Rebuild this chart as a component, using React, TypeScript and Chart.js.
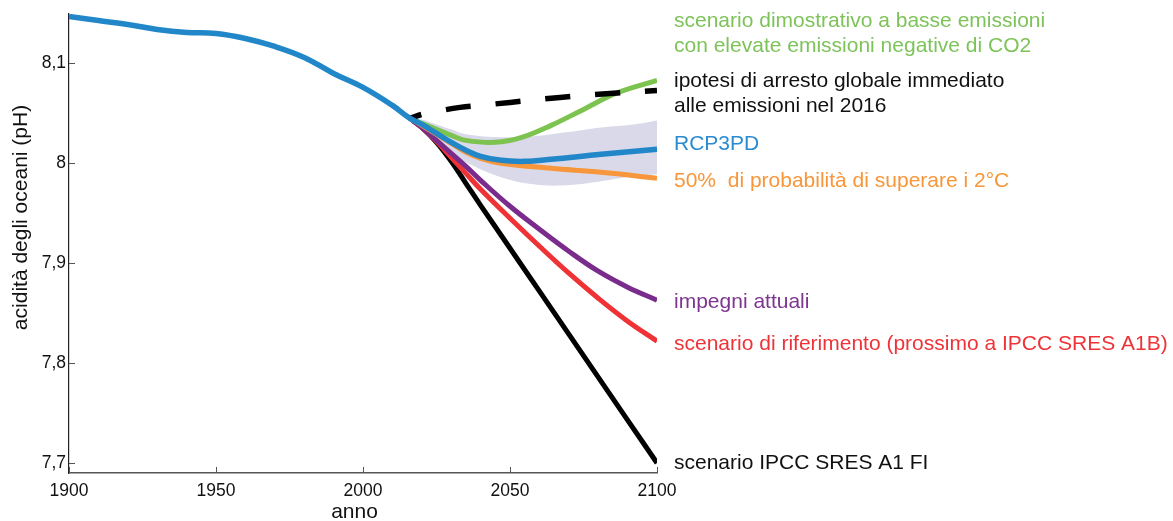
import React, { useEffect, useRef } from "react";
import { Chart, registerables } from "chart.js";

Chart.register(...registerables);

// ---------- DATA ----------
const historicalYears = [1900, 1910, 1920, 1930, 1940, 1950, 1960, 1970, 1980, 1990, 2000, 2010, 2016];
const historicalPH = [8.147, 8.143, 8.139, 8.134, 8.131, 8.130, 8.125, 8.117, 8.106, 8.090, 8.076, 8.058, 8.045];

const rcpYears = [2016, 2020, 2025, 2030, 2035, 2040, 2047, 2055, 2064, 2081, 2100];
const rcpPH = [8.045, 8.039, 8.030, 8.021, 8.013, 8.007, 8.003, 8.002, 8.004, 8.009, 8.014];

const lowEmYears = [2016, 2020, 2025, 2030, 2035, 2045, 2054, 2064, 2075, 2086, 2100];
const lowEmPH = [8.045, 8.040, 8.034, 8.028, 8.023, 8.021, 8.026, 8.038, 8.054, 8.070, 8.083];

const stopYears = [2016, 2020, 2025, 2033, 2040, 2050, 2067, 2084, 2100];
const stopPH = [8.045, 8.049, 8.052, 8.056, 8.058, 8.061, 8.066, 8.070, 8.073];

const prob50Years = [2016, 2020, 2025, 2030, 2035, 2040, 2047, 2064, 2081, 2100];
const prob50PH = [8.045, 8.038, 8.029, 8.020, 8.011, 8.005, 8.000, 7.995, 7.991, 7.985];

const pledgesYears = [2016, 2020, 2025, 2030, 2035, 2040, 2050, 2060, 2070, 2080, 2090, 2100];
const pledgesPH = [8.045, 8.036, 8.023, 8.010, 7.997, 7.983, 7.957, 7.934, 7.912, 7.892, 7.876, 7.863];

const referenceYears = [2016, 2020, 2025, 2030, 2035, 2040, 2050, 2060, 2070, 2080, 2090, 2100];
const referencePH = [8.045, 8.036, 8.022, 8.006, 7.990, 7.974, 7.945, 7.917, 7.890, 7.865, 7.842, 7.822];

const a1fiYears = [2016, 2020, 2025, 2030, 2035, 2040, 2050, 2060, 2070, 2080, 2090, 2100];
const a1fiPH = [8.045, 8.036, 8.021, 8.002, 7.980, 7.958, 7.915, 7.872, 7.829, 7.786, 7.743, 7.700];

const bandYears = [2016, 2020, 2024, 2030, 2035, 2047, 2058, 2069, 2081, 2092, 2100];
const bandUpperPH = [8.045, 8.044, 8.040, 8.034, 8.029, 8.026, 8.027, 8.031, 8.036, 8.039, 8.043];
const bandLowerPH = [8.045, 8.037, 8.025, 8.011, 8.001, 7.986, 7.979, 7.978, 7.982, 7.987, 7.989];

const xTicks = [1900, 1950, 2000, 2050, 2100];
const yTicks = [7.7, 7.8, 7.9, 8.0, 8.1];
const yTickLabels = ["7,7", "7,8", "7,9", "8", "8,1"];

const xTitle = "anno";
const yTitle = "acidità degli oceani (pH)";

const labelLowEm = ["scenario dimostrativo a basse emissioni", "con elevate emissioni negative di CO2"];
const labelStop = ["ipotesi di arresto globale immediato", "alle emissioni nel 2016"];
const labelRcp = ["RCP3PD"];
const labelProb50 = ["50%  di probabilità di superare i 2°C"];
const labelPledges = ["impegni attuali"];
const labelReference = ["scenario di riferimento (prossimo a IPCC SRES A1B)"];
const labelA1fi = ["scenario IPCC SRES A1 FI"];

// ---------- STYLE ----------
const C_BLUE = "#2287c8";
const C_GREEN = "#7cc350";
const C_ORANGE = "#f7963a";
const C_PURPLE = "#7a2c8c";
const C_RED = "#ee3236";
const C_BLACK = "#000000";
const C_BAND = "#d9d9ea";
const FONT = '"Liberation Sans", Arial, Helvetica, sans-serif';

const pts = (xs: number[], ys: number[]) => xs.map((x, i) => ({ x, y: ys[i] }));

const rightLabels: { lines: string[]; color: string; baselines: number[] }[] = [
  { lines: labelLowEm, color: "#7dc35a", baselines: [26.5, 51.5] },
  { lines: labelStop, color: "#111111", baselines: [87, 111.5] },
  { lines: labelRcp, color: "#2a8bd0", baselines: [149.5] },
  { lines: labelProb50, color: "#f7963a", baselines: [187] },
  { lines: labelPledges, color: "#7d3591", baselines: [307.5] },
  { lines: labelReference, color: "#ee3338", baselines: [350] },
  { lines: labelA1fi, color: "#111111", baselines: [468.5] },
];

const overlayPlugin = {
  id: "overlay",
  afterDraw(chart: any) {
    const ctx = chart.ctx as CanvasRenderingContext2D;
    const { left, bottom } = chart.chartArea;
    const xs = chart.scales.x;
    const ys = chart.scales.y;
    ctx.save();
    // inward tick marks
    ctx.strokeStyle = "#555";
    ctx.lineWidth = 1;
    xTicks.forEach((v) => {
      const px = Math.round(xs.getPixelForValue(v)) + 0.5;
      ctx.beginPath();
      ctx.moveTo(px, bottom);
      ctx.lineTo(px, bottom - 6);
      ctx.stroke();
    });
    yTicks.forEach((v) => {
      const py = Math.round(ys.getPixelForValue(v)) + 0.5;
      ctx.beginPath();
      ctx.moveTo(left, py);
      ctx.lineTo(left + 6, py);
      ctx.stroke();
    });
    // axis titles
    ctx.fillStyle = "#111";
    ctx.font = `21px ${FONT}`;
    ctx.textAlign = "center";
    ctx.textBaseline = "alphabetic";
    ctx.fillText(xTitle, 354.5, 518);
    ctx.save();
    ctx.translate(26.5, 217.5);
    ctx.rotate(-Math.PI / 2);
    ctx.fillText(yTitle, 0, 0);
    ctx.restore();
    // right-hand labels
    ctx.textAlign = "left";
    const lx = xs.right + 17;
    rightLabels.forEach((lab) => {
      ctx.fillStyle = lab.color;
      lab.lines.forEach((t, i) => ctx.fillText(t, lx, lab.baselines[i]));
    });
    ctx.restore();
  },
};

const line = (label: string, xs: number[], ys: number[], color: string, order: number, extra: any = {}) => ({
  label,
  data: pts(xs, ys),
  borderColor: color,
  backgroundColor: color,
  borderWidth: 5,
  pointRadius: 0,
  fill: false,
  tension: 0.4,
  borderCapStyle: "butt",
  borderJoinStyle: "round",
  order,
  ...extra,
});

export default function App() {
  const ref = useRef<HTMLCanvasElement | null>(null);

  useEffect(() => {
    if (!ref.current) return;
    const datasets: any[] = [
      line("RCP3PD", [...historicalYears, ...rcpYears.slice(1)], [...historicalPH, ...rcpPH.slice(1)], C_BLUE, 0, { borderWidth: 5.5 }),
      line("arresto 2016", stopYears, stopPH, C_BLACK, 1, { borderDash: [25, 25], borderDashOffset: 13, borderWidth: 5.5 }),
      line("basse emissioni", lowEmYears, lowEmPH, C_GREEN, 2),
      line("50%", prob50Years, prob50PH, C_ORANGE, 3),
      line("impegni attuali", pledgesYears, pledgesPH, C_PURPLE, 4),
      line("riferimento", referenceYears, referencePH, C_RED, 5),
      line("A1 FI", a1fiYears, a1fiPH, C_BLACK, 6),
      {
        label: "band upper",
        data: pts(bandYears, bandUpperPH),
        borderWidth: 0,
        borderColor: "rgba(0,0,0,0)",
        pointRadius: 0,
        fill: false,
        tension: 0.4,
        order: 100,
      },
      {
        label: "band lower",
        data: pts(bandYears, bandLowerPH),
        borderWidth: 0,
        borderColor: "rgba(0,0,0,0)",
        backgroundColor: C_BAND,
        pointRadius: 0,
        fill: "-1",
        tension: 0.4,
        order: 100,
      },
    ];

    const chart = new Chart(ref.current, {
      type: "line",
      data: { datasets },
      plugins: [overlayPlugin],
      options: {
        animation: false,
        responsive: false,
        devicePixelRatio: 1,
        layout: { padding: { top: 10, right: 516, left: 0, bottom: 0 } },
        plugins: {
          legend: { display: false },
          tooltip: { enabled: false },
          title: { display: false },
        },
        scales: {
          x: {
            type: "linear",
            min: 1900,
            max: 2100,
            grid: { display: false, drawTicks: false },
            border: { display: true, color: "#555", width: 1.5 },
            afterBuildTicks: (s: any) => {
              s.ticks = xTicks.map((v) => ({ value: v }));
            },
            afterFit: (s: any) => {
              s.height = 48;
            },
            ticks: {
              padding: 8,
              color: "#111",
              font: { family: FONT, size: 17.5 },
              maxRotation: 0,
              autoSkip: false,
              callback: (v: any) => String(v),
            },
          },
          y: {
            type: "linear",
            min: 7.69,
            max: 8.15,
            grid: { display: false, drawTicks: false },
            border: { display: true, color: "#222", width: 1.2 },
            afterBuildTicks: (s: any) => {
              s.ticks = yTicks.map((v) => ({ value: v }));
            },
            afterFit: (s: any) => {
              s.width = 69;
            },
            ticks: {
              padding: 3,
              color: "#111",
              font: { family: FONT, size: 17.5 },
              autoSkip: false,
              callback: (v: any) => {
                const i = yTicks.findIndex((t) => Math.abs(t - v) < 1e-6);
                return i >= 0 ? yTickLabels[i] : "";
              },
            },
          },
        },
      },
    });
    return () => chart.destroy();
  }, []);

  return (
    <div style={{ position: "fixed", left: 0, top: 0, width: 1173, height: 521, background: "#fff" }}>
      <canvas ref={ref} width={1173} height={521} style={{ display: "block" }} />
    </div>
  );
}
